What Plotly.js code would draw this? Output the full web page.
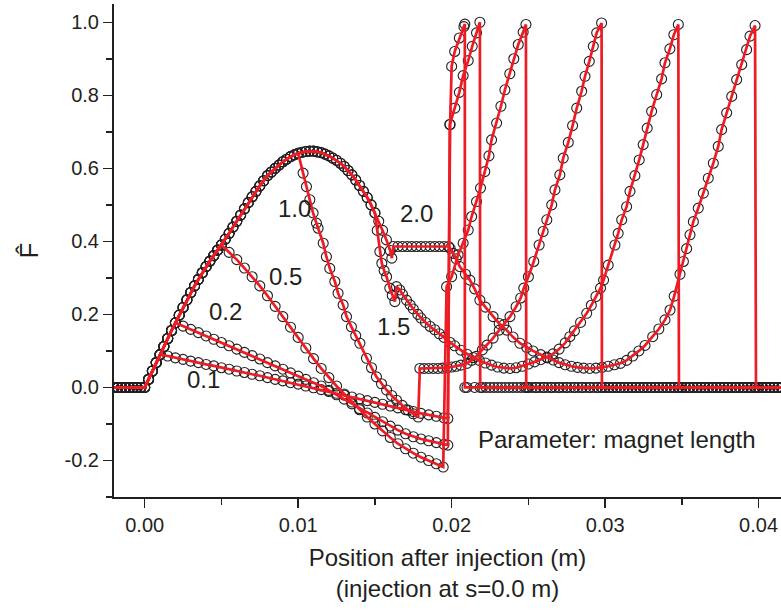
<!DOCTYPE html>
<html>
<head>
<meta charset="utf-8">
<script src="https://cdn.plot.ly/plotly-3.0.1.min.js"></script>
<style>html,body{margin:0;padding:0;background:#fff;}#chart{width:781px;height:610px;}</style>
</head>
<body>
<div id="chart"></div>
<script>
// ---------- data ----------
const preX = [-0.002,-0.00175,-0.0015,-0.00125,-0.001,-0.00075,-0.0005,-0.00025];
const preY = [0,0,0,0,0,0,0,0];

// common rising envelope (inside the first magnet)
const envX = [0,0.00025,0.0005,0.00075,0.001,0.00125,0.0015,0.00175,0.002,0.00225,0.0025,0.00275,0.003,0.00325,0.0035,0.00375,0.004,0.00425,0.0045,0.00475,0.005,0.00525,0.0055,0.00575,0.006,0.00625,0.0065,0.00675,0.007,0.00725,0.0075,0.00775,0.008,0.00825,0.0085,0.00875,0.009,0.00925,0.0095,0.00975,0.01,0.01025,0.0105,0.01075,0.011,0.01125,0.0115,0.01175,0.012,0.01225,0.0125,0.01275,0.013,0.01325,0.0135,0.01375,0.014,0.01425,0.0145,0.01475,0.015,0.01525,0.0155,0.01575,0.016];
const envY = [0,0.022,0.045,0.068,0.09,0.112,0.134,0.156,0.177,0.198,0.219,0.24,0.26,0.278,0.296,0.314,0.331,0.346,0.361,0.376,0.39,0.406,0.422,0.439,0.455,0.472,0.489,0.506,0.522,0.537,0.552,0.566,0.58,0.59,0.6,0.609,0.618,0.625,0.632,0.637,0.641,0.644,0.646,0.647,0.647,0.645,0.643,0.639,0.634,0.628,0.622,0.614,0.605,0.594,0.582,0.568,0.553,0.537,0.52,0.5,0.478,0.455,0.43,0.404,0.375];

// magnet length parameters and where each curve leaves the envelope (x value)
const magnetLabels = ['0.1','0.2','0.5','1.0','1.5','2.0'];
const branchStart = [0.001,0.002,0.005,0.010,0.015,0.016];

const b01X = [0.0015,0.002,0.0025,0.003,0.0035,0.004,0.0045,0.005,0.0055,0.006,0.0065,0.007,0.0075,0.008,0.0085,0.009,0.0095,0.01,0.0105,0.011,0.0115,0.012,0.0125,0.013,0.0135,0.014,0.0145,0.015,0.0155,0.016,0.0165,0.017,0.0175,0.018,0.0185,0.019,0.0195,0.01975,0.0199,0.02,0.0202,0.0205,0.0208,0.02086,0.02086];
const b01Y = [0.086,0.081,0.077,0.072,0.068,0.063,0.059,0.054,0.05,0.045,0.041,0.036,0.032,0.027,0.022,0.018,0.013,0.009,0.004,-0.001,-0.006,-0.011,-0.016,-0.021,-0.026,-0.031,-0.036,-0.041,-0.046,-0.051,-0.056,-0.061,-0.066,-0.071,-0.075,-0.079,-0.083,-0.085,0.72,0.879,0.92,0.957,0.988,0.995,0];

const b02X = [0.0025,0.003,0.0035,0.004,0.0045,0.005,0.0055,0.006,0.0065,0.007,0.0075,0.008,0.0085,0.009,0.0095,0.01,0.0105,0.011,0.0115,0.012,0.0125,0.013,0.0135,0.014,0.0145,0.015,0.0155,0.016,0.0165,0.017,0.0175,0.018,0.0185,0.019,0.0195,0.01975,0.01988,0.02021,0.0205,0.02075,0.02108,0.02134,0.02162,0.02184,0.02186];
const b02Y = [0.168,0.159,0.15,0.141,0.132,0.123,0.114,0.105,0.096,0.087,0.078,0.068,0.059,0.05,0.04,0.031,0.022,0.013,0.004,-0.008,-0.02,-0.032,-0.045,-0.058,-0.07,-0.082,-0.094,-0.106,-0.117,-0.127,-0.135,-0.141,-0.146,-0.151,-0.156,-0.158,0.72,0.765,0.808,0.854,0.895,0.934,0.971,1.0,0];

const b05X = [0.0055,0.006,0.0065,0.007,0.0075,0.008,0.0085,0.009,0.0095,0.01,0.0105,0.011,0.0115,0.012,0.0125,0.013,0.0135,0.014,0.0145,0.015,0.0155,0.016,0.0165,0.017,0.0175,0.018,0.0185,0.019,0.01945,0.01967,0.02,0.02042,0.02075,0.02108,0.0213,0.02162,0.02188,0.02216,0.02243,0.0226,0.02293,0.02321,0.02347,0.02379,0.02405,0.02434,0.02466,0.02484,0.02486];
const b05Y = [0.37,0.35,0.327,0.303,0.278,0.251,0.222,0.194,0.165,0.137,0.108,0.079,0.052,0.027,0.004,-0.018,-0.04,-0.061,-0.081,-0.1,-0.119,-0.137,-0.154,-0.168,-0.18,-0.191,-0.2,-0.209,-0.218,0.276,0.303,0.363,0.395,0.431,0.468,0.509,0.546,0.591,0.634,0.678,0.724,0.77,0.815,0.859,0.9,0.939,0.973,0.994,0];

const b10X = [0.01032,0.01054,0.01076,0.01097,0.01119,0.0113,0.01163,0.01184,0.01206,0.01239,0.0126,0.01293,0.01315,0.01347,0.01375,0.01402,0.01445,0.01478,0.0151,0.01543,0.01576,0.01609,0.01641,0.01678,0.01716,0.0175,0.01782,0.01793,0.0182,0.0185,0.0188,0.0191,0.0194,0.0197,0.02,0.0203,0.0206,0.021,0.0213,0.0216,0.022,0.0223,0.0227,0.0231,0.0234,0.0238,0.0242,0.0245,0.0247,0.025,0.02535,0.0257,0.02596,0.0262,0.02652,0.02673,0.02705,0.02727,0.0276,0.02788,0.02815,0.02847,0.02869,0.02897,0.02923,0.02945,0.02977,0.02979];
const b10Y = [0.587,0.55,0.514,0.478,0.45,0.436,0.395,0.358,0.326,0.29,0.258,0.226,0.194,0.166,0.142,0.121,0.08,0.054,0.029,0.01,-0.007,-0.022,-0.035,-0.049,-0.062,-0.072,-0.081,0.052,0.052,0.052,0.052,0.052,0.053,0.054,0.056,0.058,0.061,0.066,0.074,0.085,0.103,0.116,0.135,0.157,0.172,0.194,0.221,0.245,0.272,0.303,0.345,0.39,0.427,0.459,0.5,0.541,0.582,0.628,0.671,0.717,0.765,0.811,0.852,0.893,0.934,0.971,0.998,0];

const b15X = [0.01515,0.01532,0.01545,0.0156,0.01576,0.01597,0.01613,0.0163,0.01641,0.01662,0.0168,0.01706,0.0173,0.0175,0.0178,0.018,0.0183,0.0186,0.0189,0.0192,0.0195,0.0199,0.0202,0.0206,0.021,0.0214,0.0218,0.0222,0.0226,0.023,0.0234,0.0238,0.0242,0.0246,0.025,0.0254,0.0258,0.0262,0.0266,0.027,0.0274,0.0277,0.028,0.0284,0.0288,0.0291,0.0294,0.0297,0.0299,0.0302,0.03064,0.03085,0.03108,0.0314,0.03162,0.03194,0.03222,0.03248,0.03274,0.03303,0.03336,0.03368,0.0339,0.03422,0.03448,0.03477,0.03481];
const b15Y = [0.43,0.372,0.34,0.32,0.303,0.272,0.252,0.235,0.276,0.267,0.255,0.239,0.226,0.215,0.2,0.19,0.178,0.167,0.158,0.147,0.137,0.123,0.114,0.102,0.091,0.082,0.074,0.067,0.061,0.056,0.053,0.052,0.054,0.058,0.064,0.07,0.076,0.083,0.092,0.105,0.122,0.139,0.155,0.178,0.203,0.225,0.249,0.272,0.294,0.335,0.39,0.422,0.459,0.495,0.537,0.58,0.623,0.665,0.71,0.756,0.802,0.845,0.889,0.927,0.966,0.994,0];

const b20X = [0.0161,0.0162,0.0165,0.0168,0.0171,0.0174,0.0177,0.018,0.0183,0.0186,0.0189,0.0192,0.0195,0.0198,0.0199,0.0201,0.0203,0.02053,0.0209,0.02119,0.0215,0.02184,0.0222,0.0227,0.0231,0.02358,0.024,0.02445,0.0249,0.0253,0.0258,0.02623,0.02662,0.027,0.0274,0.0278,0.0282,0.0286,0.029,0.0294,0.0298,0.0302,0.0306,0.031,0.0314,0.0318,0.0322,0.0326,0.0331,0.0335,0.0339,0.03423,0.0345,0.03488,0.0351,0.03531,0.03553,0.03575,0.03607,0.0364,0.03672,0.03705,0.03737,0.03759,0.03792,0.03825,0.03857,0.0389,0.03922,0.03944,0.03977,0.03983];
const b20Y = [0.354,0.386,0.386,0.386,0.386,0.386,0.386,0.386,0.386,0.386,0.386,0.386,0.386,0.386,0.381,0.367,0.352,0.331,0.31,0.294,0.27,0.239,0.22,0.194,0.175,0.157,0.138,0.121,0.109,0.1,0.09,0.081,0.075,0.068,0.062,0.058,0.055,0.053,0.052,0.053,0.055,0.058,0.062,0.066,0.074,0.086,0.1,0.115,0.139,0.16,0.185,0.212,0.25,0.31,0.345,0.38,0.418,0.454,0.491,0.532,0.573,0.614,0.66,0.706,0.752,0.797,0.843,0.884,0.925,0.962,0.991,0];

// flat zero tails after the second magnet (two sample grids)
const tailAX = [0.021,0.0215,0.022,0.0225,0.023,0.0235,0.024,0.0245,0.025,0.0255,0.026,0.0265,0.027,0.0275,0.028,0.0285,0.029,0.0295,0.03,0.0305,0.031,0.0315,0.032,0.0325,0.033,0.0335,0.034,0.0345,0.035,0.0355,0.036,0.0365,0.037,0.0375,0.038,0.0385,0.039,0.0395,0.04,0.0405,0.041,0.0415];
const tailAY = [0,0,0,0,0,0,0,0,0,0,0,0,0,0,0,0,0,0,0,0,0,0,0,0,0,0,0,0,0,0,0,0,0,0,0,0,0,0,0,0,0,0];
const tailBX = [0.02125,0.02175,0.02225,0.02275,0.02325,0.02375,0.02425,0.02475,0.02525,0.02575,0.02625,0.02675,0.02725,0.02775,0.02825,0.02875,0.02925,0.02975,0.03025,0.03075,0.03125,0.03175,0.03225,0.03275,0.03325,0.03375,0.03425,0.03475,0.03525,0.03575,0.03625,0.03675,0.03725,0.03775,0.03825,0.03875,0.03925,0.03975,0.04025,0.04075,0.04125];
const tailBY = [0,0,0,0,0,0,0,0,0,0,0,0,0,0,0,0,0,0,0,0,0,0,0,0,0,0,0,0,0,0,0,0,0,0,0,0,0,0,0,0,0];

// label positions (data units)
const labelX = [0.00385,0.00528,0.00919,0.00978,0.01623,0.01773];
const labelY = [0.023,0.209,0.305,0.49,0.168,0.476];

const xTickVals = [0,0.01,0.02,0.03,0.04];
const xTickText = ['0.00','0.01','0.02','0.03','0.04'];
const xMinorVals = [0.005,0.015,0.025,0.035];
const yTickVals = [-0.2,0,0.2,0.4,0.6,0.8,1.0];
const yTickText = ['-0.2','0.0','0.2','0.4','0.6','0.8','1.0'];
const yMinorVals = [-0.3,-0.1,0.1,0.3,0.5,0.7,0.9];

// ---------- build curves ----------
const branches = [[b01X,b01Y],[b02X,b02Y],[b05X,b05Y],[b10X,b10Y],[b15X,b15Y],[b20X,b20Y]];
const tails = [[tailAX,tailAY],[tailBX,tailBY],[tailAX,tailAY],[tailBX,tailBY],[tailAX,tailAY],[tailBX,tailBY]];
const curves = branches.map((b, i) => {
  const n = envX.findIndex(v => Math.abs(v - branchStart[i]) < 1e-9);
  const end = b[0][b[0].length - 1];
  const tx = [], ty = [];
  tails[i][0].forEach((v, k) => { if (v > end + 1e-6) { tx.push(v); ty.push(tails[i][1][k]); } });
  return {
    x: preX.concat(envX.slice(0, n + 1), b[0], tx),
    y: preY.concat(envY.slice(0, n + 1), b[1], ty)
  };
});

const INK = '#231f20';
const RED = '#ed1c24';
const FONT = 'Liberation Sans, Arial, Helvetica, sans-serif';

const traces = [];
curves.forEach(c => traces.push({
  x: c.x, y: c.y, type: 'scatter', mode: 'markers', hoverinfo: 'skip', showlegend: false,
  marker: {symbol: 'circle-open', size: 10, color: INK, line: {width: 1.1, color: INK}}
}));
curves.forEach(c => traces.push({
  x: c.x, y: c.y, type: 'scatter', mode: 'lines', hoverinfo: 'skip', showlegend: false,
  line: {color: RED, width: 2.7}
}));

const annotations = magnetLabels.map((t, i) => ({
  x: labelX[i], y: labelY[i], xref: 'x', yref: 'y', text: t, showarrow: false,
  font: {family: FONT, size: 24, color: INK}
}));
annotations.push({
  x: 0.0308, y: -0.142, xref: 'x', yref: 'y', text: 'Parameter: magnet length', showarrow: false,
  font: {family: FONT, size: 24, color: INK}
});

const layout = {
  width: 781, height: 610,
  margin: {l: 114, r: 0, t: 4, b: 113},
  paper_bgcolor: '#fff', plot_bgcolor: '#fff',
  showlegend: false,
  font: {family: FONT, color: INK},
  xaxis: {
    range: [-0.002, 0.04146], showgrid: false, zeroline: false,
    showline: true, linecolor: INK, linewidth: 2,
    ticks: 'outside', ticklen: 9, tickwidth: 1.5, tickcolor: INK,
    tickmode: 'array', tickvals: xTickVals, ticktext: xTickText,
    tickfont: {family: FONT, size: 20, color: INK},
    minor: {tickmode: 'array', tickvals: xMinorVals, ticks: 'outside', ticklen: 6, tickwidth: 1.5, tickcolor: INK, showgrid: false},
    title: {text: 'Position after injection (m)<br>(injection at s=0.0 m)', font: {family: FONT, size: 24, color: INK}, standoff: 14}
  },
  yaxis: {
    range: [-0.3, 1.05], showgrid: false, zeroline: false,
    showline: true, linecolor: INK, linewidth: 2,
    ticks: 'outside', ticklen: 9, tickwidth: 1.5, tickcolor: INK,
    tickmode: 'array', tickvals: yTickVals, ticktext: yTickText,
    tickfont: {family: FONT, size: 20, color: INK},
    minor: {tickmode: 'array', tickvals: yMinorVals, ticks: 'outside', ticklen: 6, tickwidth: 1.5, tickcolor: INK, showgrid: false},
    title: {text: 'F\u0302', font: {family: FONT, size: 26, color: INK}, standoff: 18}
  },
  annotations: annotations
};

Plotly.newPlot('chart', traces, layout, {displayModeBar: false, staticPlot: true});
</script>
</body>
</html>
